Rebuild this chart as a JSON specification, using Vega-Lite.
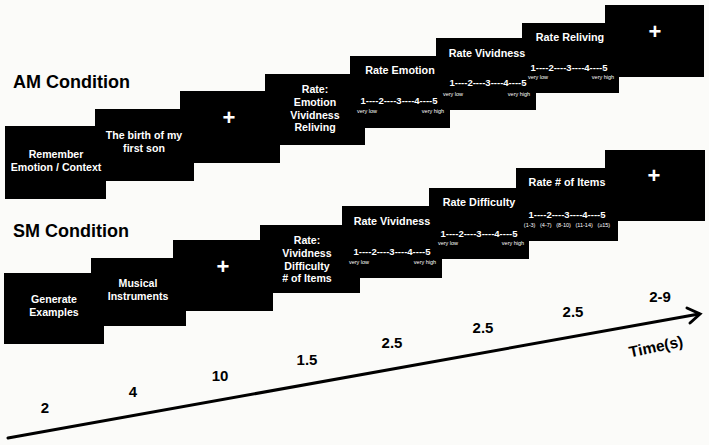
{
  "$schema": "https://vega.github.io/schema/vega-lite/v6.json",
  "width": 709,
  "height": 445,
  "autosize": {"type": "fit", "contains": "padding"},
  "padding": 0,
  "background": "#fbfbf9",
  "view": {"stroke": null},
  "config": {"font": "Liberation Sans", "text": {"font": "Liberation Sans", "fontWeight": "bold", "lineBreak": "\n"}},
  "datasets": {
    "boxes": [
      {"cond": "AM", "step": 1, "x": 5, "x2": 106, "y": 126, "y2": 199},
      {"cond": "AM", "step": 2, "x": 95, "x2": 194, "y": 109, "y2": 181},
      {"cond": "AM", "step": 3, "x": 180, "x2": 280, "y": 91, "y2": 163},
      {"cond": "AM", "step": 4, "x": 265, "x2": 365, "y": 74, "y2": 145},
      {"cond": "AM", "step": 5, "x": 350, "x2": 450, "y": 56, "y2": 128},
      {"cond": "AM", "step": 6, "x": 436, "x2": 536, "y": 38, "y2": 110},
      {"cond": "AM", "step": 7, "x": 522, "x2": 619, "y": 23, "y2": 93},
      {"cond": "AM", "step": 8, "x": 605, "x2": 704, "y": 5, "y2": 77},
      {"cond": "SM", "step": 1, "x": 4, "x2": 104, "y": 273, "y2": 344},
      {"cond": "SM", "step": 2, "x": 91, "x2": 186, "y": 258, "y2": 326},
      {"cond": "SM", "step": 3, "x": 173, "x2": 273, "y": 240, "y2": 311},
      {"cond": "SM", "step": 4, "x": 260, "x2": 360, "y": 225, "y2": 293},
      {"cond": "SM", "step": 5, "x": 342, "x2": 442, "y": 206, "y2": 278},
      {"cond": "SM", "step": 6, "x": 429, "x2": 529, "y": 188, "y2": 259},
      {"cond": "SM", "step": 7, "x": 516, "x2": 618, "y": 168, "y2": 241},
      {"cond": "SM", "step": 8, "x": 605, "x2": 705, "y": 150, "y2": 221}
    ],
    "labels": [
      {"kind": "cond", "x": 13, "y": 83, "label": "AM Condition"},
      {"kind": "cond", "x": 13, "y": 232, "label": "SM Condition"},
      {"kind": "box", "x": 56, "y": 155, "label": "Remember\nEmotion / Context"},
      {"kind": "box", "x": 144, "y": 136, "label": "The birth of my\nfirst son"},
      {"kind": "cross", "x": 229, "y": 118, "label": "+"},
      {"kind": "box", "x": 315, "y": 90, "label": "Rate:\nEmotion\nVividness\nReliving"},
      {"kind": "head", "x": 400, "y": 71, "label": "Rate Emotion"},
      {"kind": "scale", "x": 399, "y": 101, "label": "1----2----3----4----5"},
      {"kind": "sub", "x": 367, "y": 111, "label": "very low"},
      {"kind": "sub", "x": 433, "y": 111, "label": "very high"},
      {"kind": "head", "x": 487, "y": 54, "label": "Rate Vividness"},
      {"kind": "scale", "x": 488, "y": 83, "label": "1----2----3----4----5"},
      {"kind": "sub", "x": 453, "y": 94, "label": "very low"},
      {"kind": "sub", "x": 519, "y": 94, "label": "very high"},
      {"kind": "head", "x": 570, "y": 38, "label": "Rate Reliving"},
      {"kind": "scale", "x": 569, "y": 68, "label": "1----2----3----4----5"},
      {"kind": "sub", "x": 538, "y": 77, "label": "very low"},
      {"kind": "sub", "x": 603, "y": 77, "label": "very high"},
      {"kind": "cross", "x": 655, "y": 32, "label": "+"},
      {"kind": "box", "x": 54, "y": 300, "label": "Generate\nExamples"},
      {"kind": "box", "x": 138, "y": 284, "label": "Musical\nInstruments"},
      {"kind": "cross", "x": 223, "y": 267, "label": "+"},
      {"kind": "box", "x": 307, "y": 241, "label": "Rate:\nVividness\nDifficulty\n# of Items"},
      {"kind": "head", "x": 392, "y": 222, "label": "Rate Vividness"},
      {"kind": "scale", "x": 392, "y": 252, "label": "1----2----3----4----5"},
      {"kind": "sub", "x": 359, "y": 262, "label": "very low"},
      {"kind": "sub", "x": 425, "y": 262, "label": "very high"},
      {"kind": "head", "x": 479, "y": 203, "label": "Rate Difficulty"},
      {"kind": "scale", "x": 479, "y": 234, "label": "1----2----3----4----5"},
      {"kind": "sub", "x": 448, "y": 243, "label": "very low"},
      {"kind": "sub", "x": 513, "y": 243, "label": "very high"},
      {"kind": "head", "x": 567, "y": 183, "label": "Rate # of Items"},
      {"kind": "scale", "x": 567, "y": 215, "label": "1----2----3----4----5"},
      {"kind": "sub", "x": 567, "y": 225, "label": "(1-3)\u00a0\u00a0\u00a0(4-7)\u00a0\u00a0\u00a0(8-10)\u00a0\u00a0\u00a0(11-14)\u00a0\u00a0\u00a0(≥15)"},
      {"kind": "cross", "x": 654, "y": 176, "label": "+"},
      {"kind": "dur", "x": 45, "y": 408, "label": "2"},
      {"kind": "dur", "x": 133, "y": 392, "label": "4"},
      {"kind": "dur", "x": 220, "y": 376, "label": "10"},
      {"kind": "dur", "x": 307, "y": 360, "label": "1.5"},
      {"kind": "dur", "x": 392, "y": 343, "label": "2.5"},
      {"kind": "dur", "x": 483, "y": 328, "label": "2.5"},
      {"kind": "dur", "x": 573, "y": 312, "label": "2.5"},
      {"kind": "dur", "x": 660, "y": 297, "label": "2-9"},
      {"kind": "time", "x": 656, "y": 347, "label": "Time(s)"}
    ],
    "arrow": [
      {"seg": "shaft", "o": 1, "x": 8, "y": 438},
      {"seg": "shaft", "o": 2, "x": 699, "y": 314},
      {"seg": "head", "o": 1, "x": 687, "y": 308},
      {"seg": "head", "o": 2, "x": 700, "y": 314},
      {"seg": "head", "o": 3, "x": 690, "y": 323}
    ]
  },
  "layer": [
    {
      "data": {"name": "boxes"},
      "mark": {"type": "rect", "color": "#000000"},
      "encoding": {
        "x": {"field": "x", "type": "quantitative", "scale": {"domain": [0, 709], "nice": false, "zero": false}, "axis": null},
        "x2": {"field": "x2"},
        "y": {"field": "y", "type": "quantitative", "scale": {"domain": [0, 445], "nice": false, "zero": false, "reverse": true}, "axis": null},
        "y2": {"field": "y2"}
      }
    },
    {
      "data": {"name": "arrow"},
      "mark": {"type": "line", "color": "#000000", "strokeWidth": 3, "strokeCap": "round", "strokeJoin": "miter"},
      "encoding": {
        "x": {"field": "x", "type": "quantitative", "axis": null},
        "y": {"field": "y", "type": "quantitative", "axis": null},
        "detail": {"field": "seg"},
        "order": {"field": "o"}
      }
    },
    {
      "data": {"name": "labels"},
      "transform": [{"filter": "datum.kind === 'cond'"}],
      "mark": {"type": "text", "align": "left", "baseline": "middle", "fontSize": 18, "color": "#000000"},
      "encoding": {
        "x": {"field": "x", "type": "quantitative", "axis": null},
        "y": {"field": "y", "type": "quantitative", "axis": null},
        "text": {"field": "label"}
      }
    },
    {
      "data": {"name": "labels"},
      "transform": [{"filter": "datum.kind === 'box'"}],
      "mark": {"type": "text", "align": "center", "baseline": "middle", "fontSize": 10.6, "lineHeight": 12.8, "color": "#ffffff"},
      "encoding": {
        "x": {"field": "x", "type": "quantitative", "axis": null},
        "y": {"field": "y", "type": "quantitative", "axis": null},
        "text": {"field": "label"}
      }
    },
    {
      "data": {"name": "labels"},
      "transform": [{"filter": "datum.kind === 'head'"}],
      "mark": {"type": "text", "align": "center", "baseline": "middle", "fontSize": 10.8, "color": "#ffffff"},
      "encoding": {
        "x": {"field": "x", "type": "quantitative", "axis": null},
        "y": {"field": "y", "type": "quantitative", "axis": null},
        "text": {"field": "label"}
      }
    },
    {
      "data": {"name": "labels"},
      "transform": [{"filter": "datum.kind === 'scale'"}],
      "mark": {"type": "text", "align": "center", "baseline": "middle", "fontSize": 9.5, "color": "#ffffff"},
      "encoding": {
        "x": {"field": "x", "type": "quantitative", "axis": null},
        "y": {"field": "y", "type": "quantitative", "axis": null},
        "text": {"field": "label"}
      }
    },
    {
      "data": {"name": "labels"},
      "transform": [{"filter": "datum.kind === 'sub'"}],
      "mark": {"type": "text", "align": "center", "baseline": "middle", "fontSize": 5.5, "fontWeight": "normal", "color": "#ffffff"},
      "encoding": {
        "x": {"field": "x", "type": "quantitative", "axis": null},
        "y": {"field": "y", "type": "quantitative", "axis": null},
        "text": {"field": "label"}
      }
    },
    {
      "data": {"name": "labels"},
      "transform": [{"filter": "datum.kind === 'cross'"}],
      "mark": {"type": "text", "align": "center", "baseline": "middle", "fontSize": 22, "color": "#ffffff"},
      "encoding": {
        "x": {"field": "x", "type": "quantitative", "axis": null},
        "y": {"field": "y", "type": "quantitative", "axis": null},
        "text": {"field": "label"}
      }
    },
    {
      "data": {"name": "labels"},
      "transform": [{"filter": "datum.kind === 'dur'"}],
      "mark": {"type": "text", "align": "center", "baseline": "middle", "fontSize": 15, "color": "#000000"},
      "encoding": {
        "x": {"field": "x", "type": "quantitative", "axis": null},
        "y": {"field": "y", "type": "quantitative", "axis": null},
        "text": {"field": "label"}
      }
    },
    {
      "data": {"name": "labels"},
      "transform": [{"filter": "datum.kind === 'time'"}],
      "mark": {"type": "text", "align": "center", "baseline": "middle", "fontSize": 15.5, "angle": 348, "color": "#000000"},
      "encoding": {
        "x": {"field": "x", "type": "quantitative", "axis": null},
        "y": {"field": "y", "type": "quantitative", "axis": null},
        "text": {"field": "label"}
      }
    }
  ]
}
